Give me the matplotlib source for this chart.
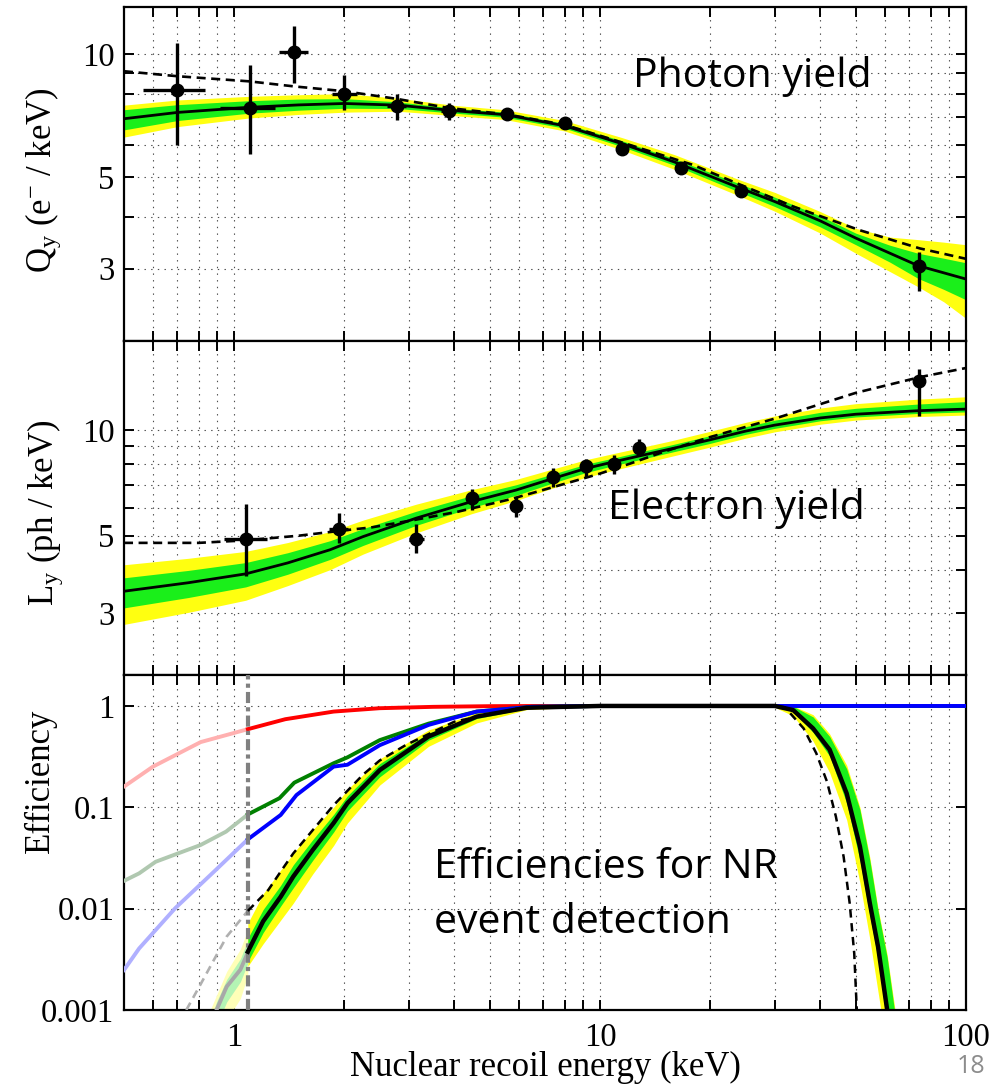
import numpy as np
import matplotlib
matplotlib.use('Agg')
import matplotlib.pyplot as plt
from matplotlib.ticker import FixedLocator, NullFormatter, FixedFormatter, NullLocator

plt.rcParams['font.family'] = ['Liberation Serif', 'DejaVu Serif']
plt.rcParams['mathtext.default'] = 'regular'
plt.rcParams['lines.scale_dashes'] = False

# ---------------- Panel 1 : Qy ----------------
E_q = [0.5, 0.7, 1.1, 1.5, 2, 2.8, 4, 5.5, 8, 11.5, 16, 24, 30, 40, 50, 62, 74, 87, 100]
Q_fit = [6.95, 7.2, 7.41, 7.51, 7.57, 7.5, 7.27, 7.11, 6.68, 6.04, 5.45, 4.72, 4.37, 3.92, 3.56, 3.27, 3.05, 2.93, 2.83]
Q_y2hi = [7.50, 7.72, 7.88, 7.95, 8.00, 7.80, 7.49, 7.31, 6.88, 6.25, 5.68, 4.94, 4.60, 4.13, 3.76, 3.58, 3.53, 3.48, 3.43]
Q_y2lo = [6.27, 6.65, 6.98, 7.12, 7.21, 7.25, 7.07, 6.92, 6.49, 5.83, 5.23, 4.51, 4.14, 3.66, 3.27, 2.95, 2.71, 2.49, 2.27]
Q_g1hi = [7.31, 7.52, 7.69, 7.76, 7.78, 7.64, 7.37, 7.21, 6.77, 6.14, 5.55, 4.83, 4.48, 4.03, 3.66, 3.42, 3.27, 3.18, 3.10]
Q_g1lo = [6.53, 6.88, 7.17, 7.29, 7.37, 7.36, 7.17, 7.01, 6.59, 5.94, 5.35, 4.61, 4.25, 3.79, 3.43, 3.11, 2.84, 2.67, 2.52]
E_qd = [0.5, 0.7, 1.1, 1.46, 2, 2.78, 3.86, 5.5, 8, 11.5, 17.9, 24.2, 33.7, 51.3, 74.8, 100]
Q_dash = [9.07, 8.82, 8.57, 8.33, 8.11, 7.77, 7.38, 7.13, 6.72, 6.08, 5.37, 4.8, 4.25, 3.72, 3.36, 3.17]

qE = [0.697, 1.105, 1.46, 2.0, 2.78, 3.86, 5.55, 8.01, 11.5, 16.6, 24.2, 74.3]
qV = [8.17, 7.38, 10.09, 8.0, 7.48, 7.25, 7.15, 6.79, 5.88, 5.27, 4.63, 3.05]
qE_lo = [0.562, 0.914, 1.33, 1.85, 2.62, 3.68, 5.55, 8.01, 11.5, 16.6, 24.2, 74.3]
qE_hi = [0.835, 1.29, 1.59, 2.16, 2.95, 4.05, 5.55, 8.01, 11.5, 16.6, 24.2, 74.3]
qV_lo = [6.0, 5.71, 8.50, 7.31, 6.92, 6.89, 7.0, 6.79, 5.88, 5.27, 4.63, 2.64]
qV_hi = [10.6, 9.37, 11.7, 8.9, 8.0, 7.6, 7.3, 6.79, 5.88, 5.27, 4.63, 3.30]

# ---------------- Panel 2 : Ly ----------------
E_l = [0.5, 0.75, 1.075, 1.4, 1.83, 2.25, 3.14, 4.46, 5.89, 7.45, 9.13, 10.9, 12.8, 15.6, 20, 25, 30, 40, 50, 74, 100]
L_fit = [3.47, 3.67, 3.89, 4.18, 4.56, 4.97, 5.61, 6.26, 6.75, 7.29, 7.78, 8.13, 8.45, 8.85, 9.4, 9.95, 10.35, 10.85, 11.12, 11.38, 11.5]
L_y2hi = [4.13, 4.31, 4.51, 4.78, 5.14, 5.54, 6.15, 6.77, 7.24, 7.76, 8.24, 8.59, 8.91, 9.33, 9.94, 10.54, 10.99, 11.58, 11.92, 12.28, 12.47]
L_y2lo = [2.79, 3.02, 3.27, 3.60, 4.00, 4.43, 5.09, 5.78, 6.30, 6.85, 7.34, 7.69, 8.01, 8.42, 8.96, 9.50, 9.90, 10.41, 10.70, 10.95, 11.06]
L_g1hi = [3.79, 3.98, 4.19, 4.47, 4.84, 5.24, 5.87, 6.51, 6.99, 7.51, 8.00, 8.34, 8.67, 9.08, 9.66, 10.25, 10.69, 11.26, 11.56, 11.89, 12.08]
L_g1lo = [3.11, 3.33, 3.57, 3.88, 4.28, 4.69, 5.35, 6.02, 6.52, 7.08, 7.57, 7.93, 8.24, 8.65, 9.18, 9.74, 10.13, 10.65, 10.92, 11.18, 11.29]
E_ld = [0.5, 0.8, 1.075, 1.5, 2.0, 2.37, 3.12, 4.1, 5.7, 8.1, 9.9, 12.1, 15, 20, 30, 50, 75, 100]
L_dash = [4.77, 4.77, 4.85, 5.0, 5.18, 5.28, 5.55, 5.86, 6.36, 7.06, 7.5, 8.04, 8.7, 9.57, 10.8, 12.8, 14.2, 15.07]

lE = [1.075, 1.93, 3.14, 4.46, 5.89, 7.45, 9.13, 10.9, 12.8, 74.3]
lV = [4.89, 5.23, 4.90, 6.4, 6.06, 7.36, 7.9, 8.04, 8.9, 13.87]
lE_lo = [0.937, 1.82, 3.0, 4.46, 5.89, 7.45, 9.13, 10.9, 12.8, 74.3]
lE_hi = [1.23, 2.05, 3.3, 4.46, 5.89, 7.45, 9.13, 10.9, 12.8, 74.3]
lV_lo = [3.83, 4.77, 4.47, 5.93, 5.67, 6.9, 7.37, 7.5, 8.43, 11.0]
lV_hi = [6.16, 5.82, 5.41, 6.82, 6.46, 7.83, 8.3, 8.49, 9.47, 15.0]

# ---------------- Panel 3 : efficiencies ----------------
E_cut = 1.09
E_red = [0.5, 0.6, 0.81, 1.09, 1.38, 1.87, 2.5, 3.5, 5, 7, 10, 100]
eff_red = [0.16, 0.252, 0.44, 0.59, 0.74, 0.88, 0.95, 0.98, 0.995, 1.0, 1.0, 1.0]
E_grn = [0.5, 0.55, 0.61, 0.81, 0.95, 1.09, 1.33, 1.46, 1.87, 2.04, 2.5, 3.4, 4.6, 6.5, 10, 100]
eff_grn = [0.0188, 0.0223, 0.029, 0.0425, 0.0575, 0.085, 0.123, 0.175, 0.272, 0.311, 0.46, 0.67, 0.88, 0.98, 1.0, 1.0]
E_blu = [0.5, 0.55, 0.69, 0.88, 1.09, 1.34, 1.48, 1.87, 2.04, 2.5, 3.4, 4.6, 6.5, 10, 100]
eff_blu = [0.00248, 0.00405, 0.0101, 0.0231, 0.0483, 0.084, 0.132, 0.252, 0.263, 0.41, 0.65, 0.88, 0.98, 1.0, 1.0]

E_tot = [1.09, 1.2, 1.34, 1.45, 1.64, 1.87, 2.04, 2.5, 3.4, 4.6, 6.3, 10, 20, 30, 33.7, 38.2, 42.4, 47.2, 51.3, 54.6, 57.5, 60.9, 64, 67]
eff_tot = [0.00376, 0.0075, 0.0131, 0.0207, 0.038, 0.07, 0.11, 0.233, 0.50, 0.785, 0.96, 1.0, 1.0, 1.0, 0.91, 0.60, 0.37, 0.137, 0.041, 0.0113, 0.0042, 0.001, 0.0004, 0.00015]
eff_y2hi = [0.0072, 0.014, 0.024, 0.035, 0.06, 0.1, 0.15, 0.30, 0.58, 0.86, 1.0, 1.01, 1.01, 1.01, 1.0, 0.82, 0.53, 0.26, 0.10, 0.032, 0.010, 0.0035, 0.001, 0.0004]
eff_y2lo = [0.0027, 0.0045, 0.0077, 0.0113, 0.022, 0.042, 0.07, 0.166, 0.40, 0.68, 0.92, 0.99, 0.995, 0.97, 0.80, 0.45, 0.22, 0.075, 0.018, 0.005, 0.0015, 0.0004, 0.00015, 0.00005]
eff_g1hi = [0.0051, 0.0098, 0.017, 0.027, 0.048, 0.085, 0.13, 0.27, 0.54, 0.82, 0.98, 1.005, 1.005, 1.005, 0.99, 0.78, 0.50, 0.24, 0.095, 0.03, 0.0095, 0.0033, 0.0009, 0.00035]
eff_g1lo = [0.003, 0.0058, 0.0106, 0.016, 0.03, 0.057, 0.092, 0.20, 0.46, 0.75, 0.94, 0.995, 0.997, 0.99, 0.88, 0.55, 0.32, 0.11, 0.03, 0.0085, 0.0032, 0.0007, 0.0003, 0.0001]

E_tot_low = [0.86, 0.895, 0.954, 1.04, 1.09]
eff_tot_low = [0.0007, 0.001, 0.0017, 0.0025, 0.0037]
eff_low_y2hi = [0.001, 0.0014, 0.0024, 0.004, 0.0062]
eff_low_y2lo = [0.0004, 0.0005, 0.0008, 0.0013, 0.0022]
eff_low_g1hi = [0.0008, 0.0012, 0.002, 0.0032, 0.0049]
eff_low_g1lo = [0.0005, 0.0007, 0.0012, 0.0019, 0.0029]

E_dash3 = [1.09, 1.24, 1.34, 1.45, 1.87, 2.25, 2.5, 2.94, 4, 6, 10, 30, 32, 36, 39, 41.7, 44.1, 46.3, 48.1, 49.5, 50.3]
eff_dash3 = [0.0095, 0.0153, 0.0232, 0.035, 0.105, 0.21, 0.29, 0.41, 0.70, 0.95, 1.0, 1.0, 0.97, 0.60, 0.34, 0.179, 0.081, 0.0325, 0.0113, 0.0036, 0.001]
E_dash3_low = [0.74, 0.81, 0.954, 1.09]
eff_dash3_low = [0.001, 0.0018, 0.0053, 0.0095]

YELLOW = '#ffff10'
GREEN = '#1aef1a'

fig = plt.figure(figsize=(10.08, 10.84), dpi=100)
Lx, Wx = 124 / 1008, 842 / 1008
ax1 = fig.add_axes([Lx, 1 - 341 / 1084, Wx, 334 / 1084])
ax2 = fig.add_axes([Lx, 1 - 675 / 1084, Wx, 334 / 1084])
ax3 = fig.add_axes([Lx, 1 - 1010 / 1084, Wx, 335 / 1084])

xmaj = [1, 10, 100]
xmin = [0.6, 0.7, 0.8, 0.9, 2, 3, 4, 5, 6, 7, 8, 9, 20, 30, 40, 50, 60, 70, 80, 90]
grid_kw = dict(color='0.3', linestyle=(0, (1.0, 3.8)), linewidth=0.8)


def style(ax, ylim, ymaj, ylab, ymin=None, xlabels=False):
    ax.set_xscale('log')
    ax.set_yscale('log')
    ax.set_xlim(0.5, 100)
    ax.set_ylim(*ylim)
    ax.xaxis.set_major_locator(FixedLocator(xmaj))
    ax.xaxis.set_minor_locator(FixedLocator(xmin))
    ax.xaxis.set_minor_formatter(NullFormatter())
    if xlabels:
        ax.xaxis.set_major_formatter(FixedFormatter(['1', '10', '100']))
    else:
        ax.xaxis.set_major_formatter(NullFormatter())
    ax.yaxis.set_major_locator(FixedLocator(ymaj))
    ax.yaxis.set_major_formatter(FixedFormatter(ylab))
    if ymin is None:
        ax.yaxis.set_minor_locator(NullLocator())
    else:
        ax.yaxis.set_minor_locator(FixedLocator(ymin))
    ax.yaxis.set_minor_formatter(NullFormatter())
    ax.tick_params(which='both', direction='in', top=True, right=True,
                   length=7, width=1.4, labelsize=23.5)
    ax.tick_params(axis='y', pad=7)
    ax.tick_params(axis='x', pad=9)
    ax.grid(True, which='both', **grid_kw)
    ax.set_axisbelow(True)
    for s in ax.spines.values():
        s.set_linewidth(1.6)


style(ax1, (2, 13), [3, 5, 10], ['3', '5', '10'], ymin=[2, 4, 6, 7, 8, 9])
style(ax2, (2, 18), [3, 5, 10], ['3', '5', '10'], ymin=[2, 4, 6, 7, 8, 9])
style(ax3, (0.001, 2.02), [0.001, 0.01, 0.1, 1], ['0.001', '0.01', '0.1', '1'], xlabels=True)

# Panel 1
ax1.fill_between(E_q, Q_y2lo, Q_y2hi, color=YELLOW, lw=0, zorder=2)
ax1.fill_between(E_q, Q_g1lo, Q_g1hi, color=GREEN, lw=0, zorder=2.1)
ax1.plot(E_q, Q_fit, color='k', lw=2.0, zorder=3)
ax1.plot(E_qd, Q_dash, color='k', lw=1.9, ls=(0, (6.5, 4)), zorder=3)
qE_a, qV_a = np.array(qE), np.array(qV)
ax1.errorbar(qE_a, qV_a,
             xerr=[qE_a - np.array(qE_lo), np.array(qE_hi) - qE_a],
             yerr=[qV_a - np.array(qV_lo), np.array(qV_hi) - qV_a],
             fmt='o', color='k', ms=9, elinewidth=2.4, capsize=0, zorder=4)

# Panel 2
ax2.fill_between(E_l, L_y2lo, L_y2hi, color=YELLOW, lw=0, zorder=2)
ax2.fill_between(E_l, L_g1lo, L_g1hi, color=GREEN, lw=0, zorder=2.1)
ax2.plot(E_l, L_fit, color='k', lw=2.0, zorder=3)
ax2.plot(E_ld, L_dash, color='k', lw=1.9, ls=(0, (6.5, 4)), zorder=3)
lE_a, lV_a = np.array(lE), np.array(lV)
ax2.errorbar(lE_a, lV_a,
             xerr=[lE_a - np.array(lE_lo), np.array(lE_hi) - lE_a],
             yerr=[lV_a - np.array(lV_lo), np.array(lV_hi) - lV_a],
             fmt='o', color='k', ms=9, elinewidth=2.4, capsize=0, zorder=4)

# Panel 3
def split(E, v):
    E = np.array(E); v = np.array(v)
    lo = E <= E_cut
    hi = E >= E_cut
    return E[lo], v[lo], E[hi], v[hi]

for E, v, c_full, c_faded in [(E_red, eff_red, '#ff0000', '#ffb0b0'),
                               (E_grn, eff_grn, '#008000', '#b0c8b0'),
                               (E_blu, eff_blu, '#0000ff', '#b0b0ff')]:
    El, vl, Eh, vh = split(E, v)
    ax3.plot(El, vl, color=c_faded, lw=2.8, zorder=3)
    ax3.plot(Eh, vh, color=c_full, lw=2.8, zorder=3)

ax3.fill_between(E_tot_low, eff_low_y2lo, eff_low_y2hi, color='#ffffb8', lw=0, zorder=2)
ax3.fill_between(E_tot_low, eff_low_g1lo, eff_low_g1hi, color='#b4f4b4', lw=0, zorder=2.1)
ax3.plot(E_tot_low, eff_tot_low, color='#a8a8a8', lw=2.8, zorder=3)
ax3.plot(E_dash3_low, eff_dash3_low, color='#b0b0b0', lw=1.9, ls=(0, (6, 4)), zorder=3)

ax3.fill_between(E_tot, eff_y2lo, eff_y2hi, color=YELLOW, lw=0, zorder=2.2)
ax3.fill_between(E_tot, eff_g1lo, eff_g1hi, color=GREEN, lw=0, zorder=2.3)
ax3.plot(E_tot, eff_tot, color='k', lw=3.2, zorder=4)
ax3.plot(E_dash3, eff_dash3, color='k', lw=1.8, ls=(0, (6, 4)), zorder=4)
ax3.axvline(E_cut, color='#808080', lw=3.0, ls=(0, (8, 3, 3, 3)), zorder=3.5)

# Labels
fig.text(43 / 1008, 1 - 180 / 1084, r'Q$_{y}$ (e$^{-}$ / keV)', rotation=90,
         ha='center', va='center', fontsize=25)
fig.text(45 / 1008, 1 - 513 / 1084, r'L$_{y}$ (ph / keV)', rotation=90,
         ha='center', va='center', fontsize=25)
fig.text(40 / 1008, 1 - 781 / 1084, 'Efficiency', rotation=90,
         ha='center', va='center', fontsize=25)
fig.text(545 / 1008, 1 - 1067 / 1084, 'Nuclear recoil energy (keV)',
         ha='center', va='center', fontsize=25)

sans = ['Open Sans', 'DejaVu Sans']
fig.text(633 / 1008, 1 - 87 / 1084, 'Photon yield', family=sans, fontsize=29.5,
         ha='left', va='baseline')
fig.text(608 / 1008, 1 - 519 / 1084, 'Electron yield', family=sans, fontsize=29.5,
         ha='left', va='baseline')
fig.text(434 / 1008, 1 - 878 / 1084, 'Efficiencies for NR', family=sans, fontsize=29.5,
         ha='left', va='baseline')
fig.text(434 / 1008, 1 - 933 / 1084, 'event detection', family=sans, fontsize=29.5,
         ha='left', va='baseline')
fig.text(971 / 1008, 1 - 1073 / 1084, '18', family=sans, fontsize=18,
         color='#8c8c8c', ha='center', va='baseline')

fig.savefig('out.png', dpi=100)
